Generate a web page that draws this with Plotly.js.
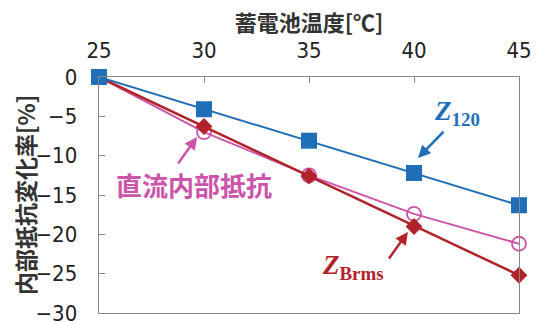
<!DOCTYPE html>
<html>
<head>
<meta charset="utf-8">
<script src="https://cdn.plot.ly/plotly-3.0.1.min.js"></script>
<style>html,body{margin:0;padding:0;background:#fff;}#chart{width:538px;height:322px;}</style>
</head>
<body>
<div id="chart"></div>
<script>
const temps = [25, 30, 35, 40, 45];
const z120 = [0, -4.1, -8.1, -12.2, -16.3];
const zbrms = [0, -6.3, -12.6, -19.0, -25.2];
const dcr = [0, -7.0, -12.5, -17.4, -21.2];
const xTicks = [25, 30, 35, 40, 45];
const yTicks = [0, -5, -10, -15, -20, -25, -30];

const numFont = '"Liberation Sans Narrow", "Arial Narrow", "DejaVu Sans Condensed", sans-serif';
const cjkFont = '"Noto Sans CJK JP", sans-serif';
const serif = '"Liberation Serif", "DejaVu Serif", serif';

const BLUE = '#1E6EB8', RED = '#B0232A', PINK = '#CC55AA';

const traces = [
  {x: temps, y: dcr, mode: 'lines+markers', cliponaxis: false, line: {color: PINK, width: 2},
   marker: {symbol: 'circle-open', size: 14, color: PINK, line: {width: 1.8, color: PINK}}},
  {x: temps, y: zbrms, mode: 'lines+markers', cliponaxis: false, line: {color: RED, width: 2.5},
   marker: {symbol: 'diamond', size: 13, color: RED}},
  {x: temps, y: z120, mode: 'lines+markers', cliponaxis: false, line: {color: BLUE, width: 2},
   marker: {symbol: 'square', size: 16, color: BLUE}}
];

const layout = {
  width: 538, height: 322,
  margin: {l: 99, r: 19, t: 77, b: 9},
  paper_bgcolor: '#fff', plot_bgcolor: '#fff',
  showlegend: false,
  xaxis: {
    side: 'top', range: [25, 45], tickvals: xTicks, ticktext: xTicks.map(String),
    ticks: 'inside', ticklen: 6, tickcolor: '#888', tickwidth: 1,
    showline: true, linecolor: '#888', linewidth: 1.3, mirror: true,
    showgrid: false, zeroline: false, ticklabelstandoff: 9, ticklabeloverflow: 'allow',
    tickfont: {family: numFont, size: 22, color: '#222'},
    title: {text: '蓄電池温度[℃]', font: {family: cjkFont, size: 22, weight: 'bold', color: '#333'}, standoff: 0}
  },
  yaxis: {
    range: [-30, 0], tickvals: yTicks, ticktext: yTicks.map(v => v === 0 ? '0' : '\u2212' + Math.abs(v)),
    ticks: 'inside', ticklen: 6, tickcolor: '#888', tickwidth: 1,
    showline: true, linecolor: '#888', linewidth: 1.3, mirror: true,
    showgrid: false, zeroline: false, ticklabelstandoff: 16, ticklabeloverflow: 'allow',
    tickfont: {family: numFont, size: 22, color: '#222'}
  },
  annotations: [
    {x: -0.176, y: 0.5, xref: 'paper', yref: 'paper', xanchor: 'center', yanchor: 'middle',
     text: '内部抵抗変化率[%]', textangle: -90, showarrow: false,
     font: {family: cjkFont, size: 23, weight: 'bold', color: '#333'}},
    {x: 29.52, y: -13.72, xref: 'x', yref: 'y', text: '直流内部抵抗', showarrow: false,
     font: {family: cjkFont, size: 26, weight: 'bold', color: PINK}},
    {x: 29.67, y: -7.62, xref: 'x', yref: 'y', text: '', showarrow: true, ax: -20, ay: 28,
     arrowhead: 2, arrowsize: 1, arrowwidth: 2.5, arrowcolor: PINK},
    {x: 40.86, y: -4.6, xref: 'x', yref: 'y', xanchor: 'left', text: '<i><b>Z</b></i><sub><b>120</b></sub>', showarrow: false,
     font: {family: serif, size: 27, color: BLUE}},
    {x: 40.19, y: -10.3, xref: 'x', yref: 'y', text: '', showarrow: true, ax: 27, ay: -28,
     arrowhead: 2, arrowsize: 1, arrowwidth: 2.5, arrowcolor: BLUE},
    {x: 35.5, y: -24.1, xref: 'x', yref: 'y', xanchor: 'left', text: '<i><b>Z</b></i><sub><b>Brms</b></sub>', showarrow: false,
     font: {family: serif, size: 27, color: RED}},
    {x: 39.71, y: -19.7, xref: 'x', yref: 'y', text: '', showarrow: true, ax: -20, ay: 28,
     arrowhead: 2, arrowsize: 1, arrowwidth: 2.5, arrowcolor: RED}
  ]
};

Plotly.newPlot('chart', traces, layout, {displayModeBar: false, staticPlot: true});
</script>
</body>
</html>
